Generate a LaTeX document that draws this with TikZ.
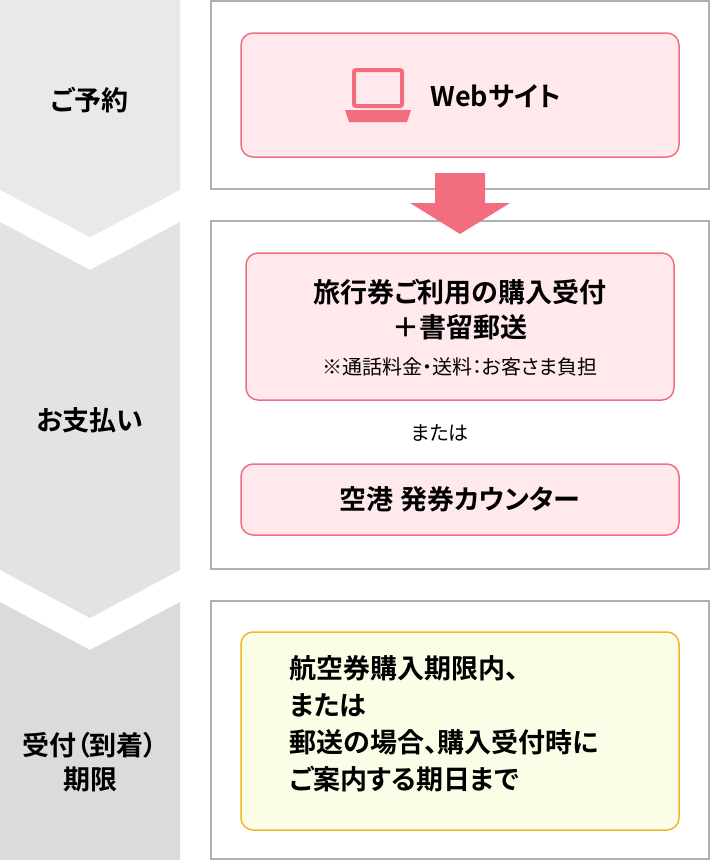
\documentclass[tikz,border=0pt]{standalone}
\usepackage{fontspec}
\setmainfont{Noto Sans CJK JP}[BoldFont={Noto Sans CJK JP Bold},RawFeature=+palt]
\definecolor{pinkline}{HTML}{F07080}
\definecolor{pinkfill}{HTML}{FFE9EC}
\definecolor{pinkarrow}{HTML}{F26D7D}
\definecolor{yelline}{HTML}{F0B828}
\definecolor{yelfill}{HTML}{FBFDE6}
\definecolor{frameline}{HTML}{B0B0B0}
\begin{document}
\begin{tikzpicture}[x=1pt,y=-1pt,
every node/.append style={font={\bfseries}},
big/.style={font={\fontsize{27}{34}\selectfont\bfseries}},
small/.style={font={\fontsize{20}{24}\selectfont}},
frame/.style={draw=frameline,line width=1.2pt,fill=white},
pinkbox/.style={draw=pinkline,line width=1.5pt,fill=pinkfill,rounded corners=12pt},
yelbox/.style={draw=yelline,line width=1.5pt,fill=yelfill,rounded corners=12pt},
]
\useasboundingbox[fill=white] (0,0) rectangle (710,860);
% step chevrons
\fill[gray!17] (0,0) -- (180,0) -- (180,190) -- (90,237) -- (0,190) -- cycle;
\fill[gray!22] (0,222) -- (90,270) -- (180,222) -- (180,570) -- (90,618) -- (0,570) -- cycle;
\fill[gray!28] (0,602) -- (90,650) -- (180,602) -- (180,860) -- (0,860) -- cycle;
\node[big] (L1) at (90,100) {ご予約};
\node[big] (L2) at (90,420) {お支払い};
\node[big,align=center] (L3) at (90,762) {受付（到着）\\期限};
% frames
\draw[frame] (211,1) rectangle (709,189);
\draw[frame] (211,221) rectangle (709,569);
\draw[frame] (211,601) rectangle (709,859);
% web
\draw[pinkbox] (241,33) rectangle (679,157);
\draw[pinkarrow,line width=4pt,rounded corners=2pt] (354,70) rectangle (402,106);
\fill[pinkarrow] (345,110) -- (411,110) -- (407,122) -- (349,122) -- cycle;
\node[big,anchor=west] (web) at (427,96) {Webサイト};
\fill[pinkarrow] (435,173) -- (485,173) -- (485,203) -- (510,203) -- (460,234) -- (410,203) -- (435,203) -- cycle;
% payment
\draw[pinkbox] (246,253) rectangle (674,400);
\node[big] (buy) at (460,292) {旅行券ご利用の購入受付};
\node[big] (mail) at (460,327) {＋書留郵送};
\node[small] (fee) at (460,367) {※通話料金・送料：お客さま負担};
\node[small] (or) at (440,433) {または};
\draw[pinkbox] (241,464) rectangle (679,535);
\node[big] (counter) at (460,499) {空港 発券カウンター};
% deadline
\draw[yelbox] (241,632) rectangle (679,830);
\node[big,anchor=north west,align=left,font={\fontsize{27}{37}\selectfont\bfseries}] (limit) at (286,652)
{航空券購入期限内、\\または\\郵送の場合、購入受付時に\\ご案内する期日まで};
\end{tikzpicture}
\end{document}
